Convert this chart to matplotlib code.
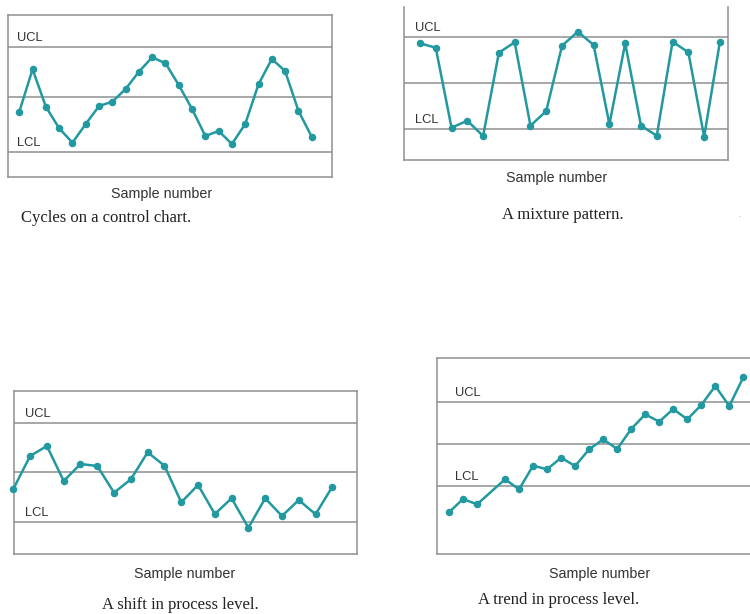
import matplotlib
matplotlib.use("Agg")
import matplotlib.pyplot as plt
import matplotlib.transforms as mtransforms

W, H = 750, 614

# ---------- data (offsets from centre line, arbitrary units) ----------
cycles_x = list(range(1, 24))
cycles_y = [-14.7, 27.7, -9.7, -31.3, -45.7, -27.0, -9.0, -4.7, 8.0, 25.3, 39.7, 33.7,
            12.0, -12.0, -39.0, -34.0, -47.0, -27.0, 12.7, 38.0, 26.0, -13.7, -39.7]
cycles_limits = [50.0, 0.0, -55.0]          # UCL, CL, LCL

mixture_x = list(range(1, 21))
mixture_y = [39.4, 35.0, -45.0, -38.0, -53.3, 30.0, 40.4, -43.0, -28.3, 37.0, 51.0, 37.7,
             -41.6, 39.4, -43.0, -53.0, 41.0, 30.4, -54.0, 41.0]
mixture_limits = [46.0, 0.0, -46.6]

shift_x = list(range(1, 21))
shift_y = [-17.3, 15.7, 25.7, -9.3, 7.7, 5.7, -21.0, -7.6, 19.4, 6.0, -30.6, -13.3,
           -42.3, -26.6, -56.0, -26.6, -44.3, -28.3, -42.6, -15.0]
shift_limits = [48.4, 0.0, -50.6]

trend_x = [1, 2, 3, 5, 6, 7, 8, 9, 10, 11, 12, 13, 14, 15, 16, 17, 18, 19, 20, 21, 22]
trend_y = [-68.3, -55.0, -60.3, -35.3, -45.3, -21.7, -25.3, -13.7, -22.0, -5.3, 4.7, -5.0,
           15.0, 29.7, 22.3, 35.0, 24.7, 39.0, 58.0, 38.0, 66.7]
trend_limits = [42.3, 0.0, -42.0]

captions = ["Cycles on a control chart.", "A mixture pattern.",
            "A shift in process level.", "A trend in process level."]
xlabel_text = "Sample number"

TEAL = "#2299a0"
GRAY = "#8f8f8f"
TXT = "#333333"

fig = plt.figure(figsize=(W / 100, H / 100), dpi=100)


def add_panel(px0, px1, py0, py1):
    return fig.add_axes([px0 / W, 1 - py1 / H, (px1 - px0) / W, (py1 - py0) / H])


def draw(ax, x, y, limits, xlim, ylim, label_x, hide=()):
    ucl, cl, lcl = limits
    for v in limits:
        ax.axhline(v, color=GRAY, lw=1.1, zorder=1)
    ax.plot(x, y, color=TEAL, lw=1.8, marker="o", ms=4.4, zorder=3, clip_on=False)
    ax.set_xlim(*xlim)
    ax.set_ylim(*ylim)
    ax.set_xticks([])
    ax.set_yticks([])
    for name, sp in ax.spines.items():
        sp.set_color(GRAY)
        sp.set_linewidth(1.1)
        if name in hide:
            sp.set_visible(False)
    tr = mtransforms.blended_transform_factory(ax.transAxes, ax.transData)
    for v, lab in ((ucl, "UCL"), (lcl, "LCL")):
        ax.text(label_x, v + 3, lab, transform=tr, ha="left", va="bottom",
                fontsize=9.3, color=TXT, family="Liberation Sans")
    ax.patch.set_alpha(0)


# Panel 1: cycles
ax1 = add_panel(8, 332, 15, 177)
draw(ax1, cycles_x, cycles_y, cycles_limits, (0.15, 24.53), (-80, 82), 0.028)

# Panel 2: mixture
ax2 = add_panel(404, 728.3, 7, 160)
draw(ax2, mixture_x, mixture_y, mixture_limits, (-0.01, 20.53), (-77.3, 75.7), 0.033, hide=("top",))

# Panel 3: shift
ax3 = add_panel(14, 356.7, 390.7, 554)
draw(ax3, shift_x, shift_y, shift_limits, (1.04, 21.45), (-82.3, 81.0), 0.033)

# Panel 4: trend
ax4 = add_panel(437.3, 752, 358.3, 554)
draw(ax4, trend_x, trend_y, trend_limits, (0.165, 22.62), (-110, 85.7), 0.055, hide=("right",))


def ftext(px, py, s, **kw):
    fig.text(px / W, 1 - py / H, s, ha="center", va="center", **kw)


for (px, py) in [(162, 194), (557, 178), (185, 574), (600, 574)]:
    ftext(px, py, xlabel_text, fontsize=10.3, color=TXT, family="Liberation Sans")

for (px, py), cap in zip([(106, 218), (563, 215), (180, 605), (559, 600)], captions):
    ftext(px, py, cap, fontsize=12, color="#222222", family="Liberation Serif")

ftext(739, 216, ".", fontsize=6, color="#999999", family="Liberation Sans")

fig.savefig("out.png", dpi=100)
